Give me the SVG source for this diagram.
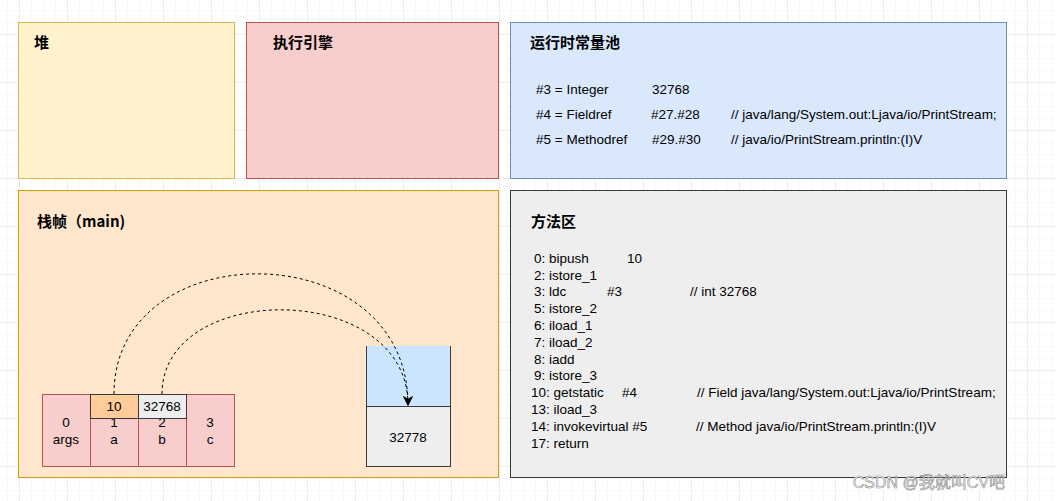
<svg xmlns="http://www.w3.org/2000/svg" width="1056" height="501" viewBox="0 0 1056 501">
<defs>
<pattern id="minor" x="7" y="10" width="12" height="12" patternUnits="userSpaceOnUse">
<path d="M12 0H0V12" fill="none" stroke="#f2f2f2" stroke-width="1"/>
</pattern>
<pattern id="major" x="19" y="34" width="48" height="48" patternUnits="userSpaceOnUse">
<path d="M48 0H0V48" fill="none" stroke="#e4e4e4" stroke-width="1"/>
</pattern>
<marker id="arr" viewBox="0 0 10 10" refX="9" refY="5" markerWidth="10" markerHeight="10" markerUnits="userSpaceOnUse" orient="auto">
<path d="M0 0L10 5L0 10L3 5Z" fill="#000"/>
</marker>
<style>
.t{font-family:"Liberation Sans","Noto Sans CJK SC",sans-serif;font-size:13.5px;fill:#000}
.h{font-family:"Noto Sans CJK SC","Liberation Sans",sans-serif;font-size:15px;font-weight:bold;fill:#000}
.c{text-anchor:middle}
.edge{fill:none;stroke:#000;stroke-width:1;stroke-dasharray:3 3}
</style>
</defs>
<rect width="1056" height="501" fill="#fff"/>
<rect width="1056" height="501" fill="url(#minor)"/>
<rect width="1056" height="501" fill="url(#major)"/>

<g id="heap">
<rect x="18.5" y="22.5" width="216" height="156" fill="#fff2cc" stroke="#d6b656"/>
<text class="h" x="34" y="48">堆</text>
</g>
<g id="engine">
<rect x="246.5" y="22.5" width="252" height="156" fill="#f8cecc" stroke="#b85450"/>
<text class="h" x="273" y="48">执行引擎</text>
</g>
<g id="constant-pool">
<rect x="510.5" y="22.5" width="496" height="156" fill="#dae8fc" stroke="#6c8ebf"/>
<text class="h" x="530" y="48">运行时常量池</text>
<text class="t" x="536" y="94">#3 = Integer</text>
<text class="t" x="652" y="94">32768</text>
<text class="t" x="536" y="119">#4 = Fieldref</text>
<text class="t" x="651" y="119">#27.#28</text>
<text class="t" x="731" y="119">// java/lang/System.out:Ljava/io/PrintStream;</text>
<text class="t" x="536" y="144">#5 = Methodref</text>
<text class="t" x="652" y="144">#29.#30</text>
<text class="t" x="731" y="144">// java/io/PrintStream.println:(I)V</text>
</g>
<g id="stack-frame">
<rect x="18.5" y="190.5" width="480" height="287" fill="#ffe6cc" stroke="#d79b00"/>
<text class="h" x="37" y="227">栈帧（main)</text>
</g>
<g id="method-area">
<rect x="510.5" y="190.5" width="496" height="287" fill="#eeeeee" stroke="#36393d"/>
<text class="h" x="531" y="227">方法区</text>
<g class="t">
<text x="534" y="263">0: bipush</text><text x="627" y="263">10</text>
<text x="534" y="280">2: istore_1</text>
<text x="534" y="296">3: ldc</text><text x="607" y="296">#3</text><text x="690" y="296">// int 32768</text>
<text x="534" y="313">5: istore_2</text>
<text x="534" y="330">6: iload_1</text>
<text x="534" y="347">7: iload_2</text>
<text x="534" y="364">8: iadd</text>
<text x="534" y="380">9: istore_3</text>
<text x="531" y="397">10: getstatic</text><text x="622" y="397">#4</text><text x="697" y="397">// Field java/lang/System.out:Ljava/io/PrintStream;</text>
<text x="531" y="414">13: iload_3</text>
<text x="531" y="431">14: invokevirtual #5</text><text x="696" y="431">// Method java/io/PrintStream.println:(I)V</text>
<text x="531" y="448">17: return</text>
</g>
</g>

<g id="locals">
<rect x="42.5" y="394.5" width="48" height="72" fill="#f8cecc" stroke="#b85450"/>
<rect x="90.5" y="394.5" width="48" height="72" fill="#f8cecc" stroke="#b85450"/>
<rect x="138.5" y="394.5" width="48" height="72" fill="#f8cecc" stroke="#b85450"/>
<rect x="186.5" y="394.5" width="48" height="72" fill="#f8cecc" stroke="#b85450"/>
<text class="t c" x="66" y="427">0</text><text class="t c" x="66" y="444">args</text>
<text class="t c" x="114" y="427">1</text><text class="t c" x="114" y="444">a</text>
<text class="t c" x="162" y="427">2</text><text class="t c" x="162" y="444">b</text>
<text class="t c" x="210" y="427">3</text><text class="t c" x="210" y="444">c</text>
</g>
<g id="val-a">
<rect x="90.5" y="394.5" width="48" height="24" fill="#ffcc99" stroke="#36393d"/>
<text class="t c" x="114" y="411">10</text>
</g>
<g id="val-b">
<rect x="138.5" y="394.5" width="48" height="24" fill="#eeeeee" stroke="#36393d"/>
<text class="t c" x="162" y="411">32768</text>
</g>
<g id="operand-stack">
<rect x="366.5" y="346" width="84" height="60" fill="#cce5ff"/>
<path d="M366.5 346V406.5M450.5 346V406.5" stroke="#36393d" fill="none"/>
<rect x="366.5" y="406.5" width="84" height="60" fill="#eeeeee" stroke="#36393d"/>
<text class="t c" x="408" y="442">32778</text>
</g>

<g id="connectors">
<path class="edge" d="M114 394C114 232 408 232 408 405" marker-end="url(#arr)"/>
<path class="edge" d="M162 394C162 280 408 280 408 405" marker-end="url(#arr)"/>
</g>

<text x="1005" y="488" text-anchor="end" font-family="Liberation Sans,Noto Sans CJK SC,sans-serif" font-size="16" fill="#fff" stroke="#8a8a8a" stroke-width="0.6">CSDN @我就叫CV吧</text>
</svg>
